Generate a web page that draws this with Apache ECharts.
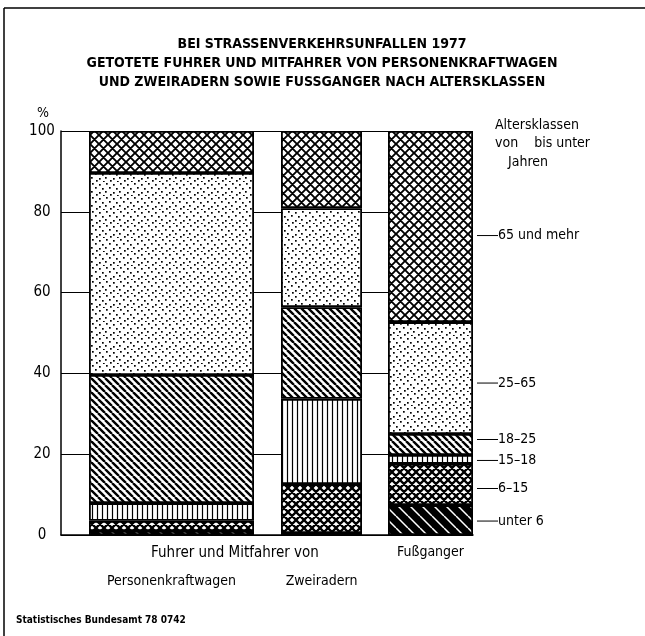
<!DOCTYPE html>
<html>
<head>
<meta charset="utf-8">
<script src="https://cdn.jsdelivr.net/npm/echarts@6/dist/echarts.min.js"></script>
<style>
  html, body { margin: 0; padding: 0; background: #fff; }
  #chart { width: 645px; height: 636px; }
</style>
</head>
<body>
<div id="chart"></div>
<script>
// groups (one bar each) and age classes, bottom to top
const groups = ["Personenkraftwagen", "Zweiradern", "Fußganger"];
const sharedLabel = "Fuhrer und Mitfahrer von";
const ageClasses = ["unter 6", "6–15", "15–18", "18–25", "25–65", "65 und mehr"];

// percent shares per group
const unter6 = [1.0, 0.5, 7.4];
const age6to15 = [2.5, 12.1, 10.2];
const age15to18 = [4.4, 21.1, 2.2];
const age18to25 = [31.7, 22.7, 5.2];
const age25to65 = [50.0, 24.5, 27.7];
const age65plus = [10.4, 19.1, 47.3];
const seriesValues = [unter6, age6to15, age15to18, age18to25, age25to65, age65plus];

const yTicks = [0, 20, 40, 60, 80, 100];

const titleLines = [
  "BEI STRASSENVERKEHRSUNFALLEN 1977",
  "GETOTETE FUHRER UND MITFAHRER VON PERSONENKRAFTWAGEN",
  "UND ZWEIRADERN SOWIE FUSSGANGER NACH ALTERSKLASSEN",
];

const FONT = "'Liberation Sans Narrow', 'DejaVu Sans Condensed', 'Roboto', sans-serif";

// --- hatch textures ---
function tile(size, bg, draw) {
  const c = document.createElement("canvas");
  c.width = c.height = size;
  const ctx = c.getContext("2d");
  ctx.fillStyle = bg;
  ctx.fillRect(0, 0, size, size);
  draw(ctx, size);
  return c;
}
function crosshatch(s, lw) {
  return tile(s, "#fff", (ctx) => {
    ctx.strokeStyle = "#000";
    ctx.lineWidth = lw;
    ctx.beginPath();
    [-1, 0, 1].forEach((k) => {
      ctx.moveTo(k * s, 0); ctx.lineTo(k * s + s, s);
      ctx.moveTo(k * s + s, 0); ctx.lineTo(k * s, s);
    });
    ctx.stroke();
  });
}
function backslash(s, lw, bg, fg) {
  return tile(s, bg, (ctx) => {
    ctx.strokeStyle = fg;
    ctx.lineWidth = lw;
    ctx.beginPath();
    [-1, 0, 1].forEach((k) => {
      ctx.moveTo(k * s, 0); ctx.lineTo(k * s + s, s);
    });
    ctx.stroke();
  });
}
function vertical(s, lw) {
  return tile(s, "#fff", (ctx) => {
    ctx.fillStyle = "#000";
    ctx.fillRect(s / 2 - lw / 2, 0, lw, s);
  });
}
function dots() {
  return tile(14, "#fff", (ctx) => {
    ctx.fillStyle = "#000";
    [[1, 2], [8, 1], [4, 6], [11, 5], [1, 10], [7, 9], [12, 12], [5, 13]].forEach((p) => {
      ctx.fillRect(p[0], p[1], 1.7, 1.7);
    });
  });
}

const fills = [
  backslash(12, 1.5, "#000", "#fff"), // unter 6
  crosshatch(8, 2.3),                 // 6-15
  vertical(5, 1.2),                   // 15-18
  backslash(7, 2.4, "#fff", "#000"),  // 18-25
  dots(),                             // 25-65
  crosshatch(9, 1.9),                 // 65 und mehr
];

// nudges of the legend labels beside the last bar
const labelNudge = [1, 4, 1, -5, 5, 9];

// plot frame (full grid) + one grid per bar
const PLOT = { left: 61, top: 131, width: 412, bottom: 101 };
const barGrids = [
  { left: 89, width: 165 },
  { left: 281, width: 81 },
  { left: 388, width: 85 },
];
const labelMargins = [39, 39, 10];

const chart = echarts.init(document.getElementById("chart"), null, { renderer: "canvas" });

const grids = [{ left: PLOT.left, top: PLOT.top, width: PLOT.width, bottom: PLOT.bottom }];
barGrids.forEach((g) => grids.push({ left: g.left, width: g.width, top: PLOT.top, bottom: PLOT.bottom }));

const xAxes = [{
  gridIndex: 0, type: "value", min: 0, max: 1,
  axisLine: { show: true, lineStyle: { color: "#000", width: 1.5 } },
  axisTick: { show: false }, axisLabel: { show: false }, splitLine: { show: false },
}];
const yAxes = [{
  gridIndex: 0, type: "value", min: yTicks[0], max: yTicks[yTicks.length - 1], interval: 20,
  axisLine: { show: true, lineStyle: { color: "#000", width: 1.5 } },
  axisTick: { show: false },
  axisLabel: { color: "#000", fontFamily: FONT, fontSize: 15, align: "center", margin: 19 },
  splitLine: { show: true, lineStyle: { color: "#000", width: 1 } },
}];
groups.forEach((name, j) => {
  xAxes.push({
    gridIndex: j + 1, type: "category", data: [name],
    axisLine: { show: false }, axisTick: { show: false },
    axisLabel: { color: "#000", fontFamily: FONT, fontSize: 14, margin: labelMargins[j] },
  });
  yAxes.push({ gridIndex: j + 1, type: "value", min: 0, max: 100, show: false });
});

const series = [];
ageClasses.forEach((cls, c) => {
  groups.forEach((g, j) => {
    const last = j === groups.length - 1;
    series.push({
      type: "bar",
      name: cls,
      xAxisIndex: j + 1,
      yAxisIndex: j + 1,
      stack: "g" + j,
      barWidth: "100%",
      data: [seriesValues[c][j]],
      itemStyle: {
        color: { image: fills[c], repeat: "repeat" },
        borderColor: "#000",
        borderWidth: 1.8,
      },
      emphasis: { disabled: true },
      label: last ? {
        show: true,
        position: "right",
        distance: 4,
        offset: [0, labelNudge[c]],
        color: "#000",
        fontFamily: FONT,
        fontSize: 14,
        formatter: "{ln| }" + cls,
        rich: { ln: { width: 21, height: 1, backgroundColor: "#000" } },
      } : { show: false },
    });
  });
});

const textStyle = (size, weight) => ({ font: (weight || "normal") + " " + size + "px " + FONT, fill: "#000" });

chart.setOption({
  animation: false,
  backgroundColor: "#fff",
  grid: grids,
  xAxis: xAxes,
  yAxis: yAxes,
  series: series,
  graphic: [
    { type: "line", shape: { x1: 4, y1: 8, x2: 645, y2: 8 }, style: { stroke: "#000", lineWidth: 1.5 } },
    { type: "line", shape: { x1: 4, y1: 8, x2: 4, y2: 636 }, style: { stroke: "#000", lineWidth: 1.5 } },
    ...titleLines.map((t, i) => ({
      type: "text", x: 322, y: 44 + i * 19,
      style: Object.assign(textStyle(14, "bold"), { text: t, align: "center", verticalAlign: "middle" }),
    })),
    { type: "text", x: 43, y: 113, style: Object.assign(textStyle(14), { text: "%", align: "center", verticalAlign: "middle" }) },
    { type: "text", x: 235, y: 553, style: Object.assign(textStyle(15), { text: sharedLabel, align: "center", verticalAlign: "middle" }) },
    { type: "text", x: 495, y: 125, style: Object.assign(textStyle(14), { text: "Altersklassen", align: "left", verticalAlign: "middle" }) },
    { type: "text", x: 495, y: 143, style: Object.assign(textStyle(14), { text: "von    bis unter", align: "left", verticalAlign: "middle" }) },
    { type: "text", x: 508, y: 162, style: Object.assign(textStyle(14), { text: "Jahren", align: "left", verticalAlign: "middle" }) },
    { type: "text", x: 16, y: 620, style: Object.assign(textStyle(10, "bold"), { text: "Statistisches Bundesamt 78 0742", align: "left", verticalAlign: "middle" }) },
  ],
});
</script>
</body>
</html>
